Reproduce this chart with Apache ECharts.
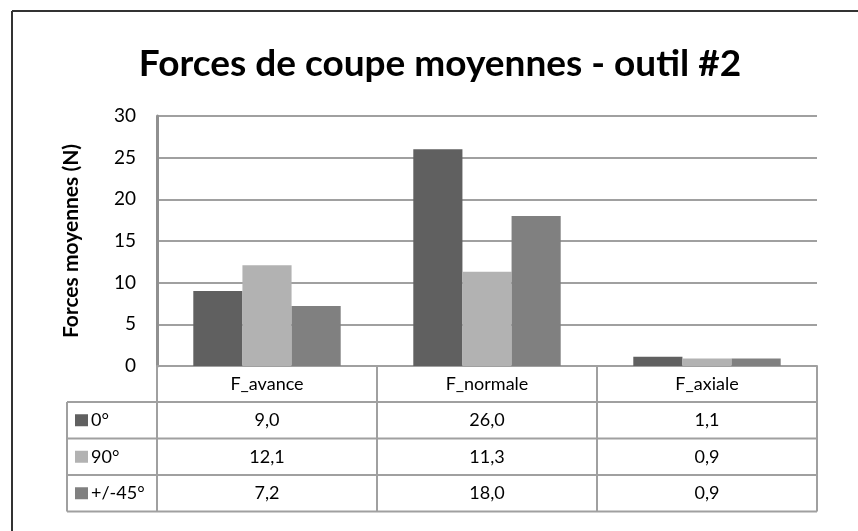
<!DOCTYPE html>
<html><head><meta charset="utf-8">
<script src="https://cdn.jsdelivr.net/npm/echarts@6/dist/echarts.min.js"></script>
<style>html,body{margin:0;padding:0;background:#fff}#c{width:858px;height:531px}</style>
</head><body><div id="c"></div>
<script>
const categories = ['F_avance', 'F_normale', 'F_axiale'];
const seriesNames = ['0°', '90°', '+/-45°'];
const s0 = [9.0, 26.0, 1.1];
const s90 = [12.1, 11.3, 0.9];
const s45 = [7.2, 18.0, 0.9];
const yTicks = [0, 5, 10, 15, 20, 25, 30];
const values = [s0, s90, s45];
const colors = ['#606060', '#b2b2b2', '#808080'];

const FONT = 'Lato, "Open Sans", sans-serif';
const LINE = '#a0a0a0';
const chart = echarts.init(document.getElementById('c'), null, {renderer: 'canvas'});
const GRID = {left: 157, right: 41, top: 116, bottom: 165};
const HEADER_H = 36, ROW_H = 36.5, TABLE_LEFT = 67;
const TXT = 18;

const option = {
  backgroundColor: '#fff',
  animation: false,
  title: {
    text: 'Forces de coupe moyennes - outil #2',
    left: 435, top: 41, textAlign: 'center',
    textStyle: {fontFamily: FONT, fontWeight: 'bold', fontSize: 37, color: '#000'}
  },
  grid: GRID,
  xAxis: {
    type: 'category', data: categories,
    axisLine: {lineStyle: {color: LINE, width: 2}},
    axisTick: {show: true, length: HEADER_H + 3 * ROW_H, lineStyle: {color: LINE, width: 2}},
    axisLabel: {fontSize: TXT, color: '#000', fontFamily: FONT, margin: 9}
  },
  yAxis: {
    type: 'value', min: yTicks[0], max: yTicks[yTicks.length - 1], interval: yTicks[1] - yTicks[0],
    name: 'Forces moyennes (N)', nameLocation: 'middle', nameGap: 75,
    nameTextStyle: {fontFamily: FONT, fontWeight: 'bold', fontSize: 21, color: '#000'},
    axisLine: {show: true, lineStyle: {color: '#909090', width: 3}},
    axisTick: {show: false},
    splitLine: {lineStyle: {color: LINE, width: 2}},
    axisLabel: {fontSize: 19, color: '#000', fontFamily: FONT, margin: 21}
  },
  series: values.map((v, i) => ({
    type: 'bar', name: seriesNames[i], data: v,
    barGap: 0, barCategoryGap: '33%',
    itemStyle: {color: colors[i]}
  }))
};
chart.setOption(option);

// Data table below the plot, positioned from the axis scales
const xs = categories.map(c => chart.convertToPixel({xAxisIndex: 0}, c));
const yBase = chart.convertToPixel({yAxisIndex: 0}, 0);
const xRight = 858 - GRID.right;
const fmt = v => v.toFixed(1).replace('.', ',');
const g = [];
// outer chart border
g.push({type: 'line', shape: {x1: 12, y1: 11, x2: 12, y2: 531}, style: {stroke: '#333', lineWidth: 2}});
g.push({type: 'line', shape: {x1: 12, y1: 11, x2: 858, y2: 11}, style: {stroke: '#333', lineWidth: 2}});
for (let r = 0; r <= 3; r++) {
  const y = yBase + HEADER_H + r * ROW_H;
  g.push({type: 'line', shape: {x1: TABLE_LEFT, y1: y, x2: xRight, y2: y}, style: {stroke: LINE, lineWidth: 2}});
}
g.push({type: 'line', shape: {x1: TABLE_LEFT, y1: yBase + HEADER_H, x2: TABLE_LEFT, y2: yBase + HEADER_H + 3 * ROW_H}, style: {stroke: LINE, lineWidth: 2}});
values.forEach((vals, r) => {
  const cy = yBase + HEADER_H + (r + 0.5) * ROW_H;
  g.push({type: 'rect', shape: {x: 75, y: cy - 6, width: 13, height: 12}, style: {fill: colors[r]}});
  g.push({type: 'text', style: {text: seriesNames[r], x: 91, y: cy, align: 'left', verticalAlign: 'middle', textAlign: 'left', textVerticalAlign: 'middle', fontSize: TXT, fontFamily: FONT, fill: '#000'}});
  vals.forEach((v, c) => {
    g.push({type: 'text', style: {text: fmt(v), x: xs[c], y: cy, align: 'center', verticalAlign: 'middle', textAlign: 'center', textVerticalAlign: 'middle', fontSize: TXT, fontFamily: FONT, fill: '#000'}});
  });
});
chart.setOption({graphic: g});
</script>
</body></html>
